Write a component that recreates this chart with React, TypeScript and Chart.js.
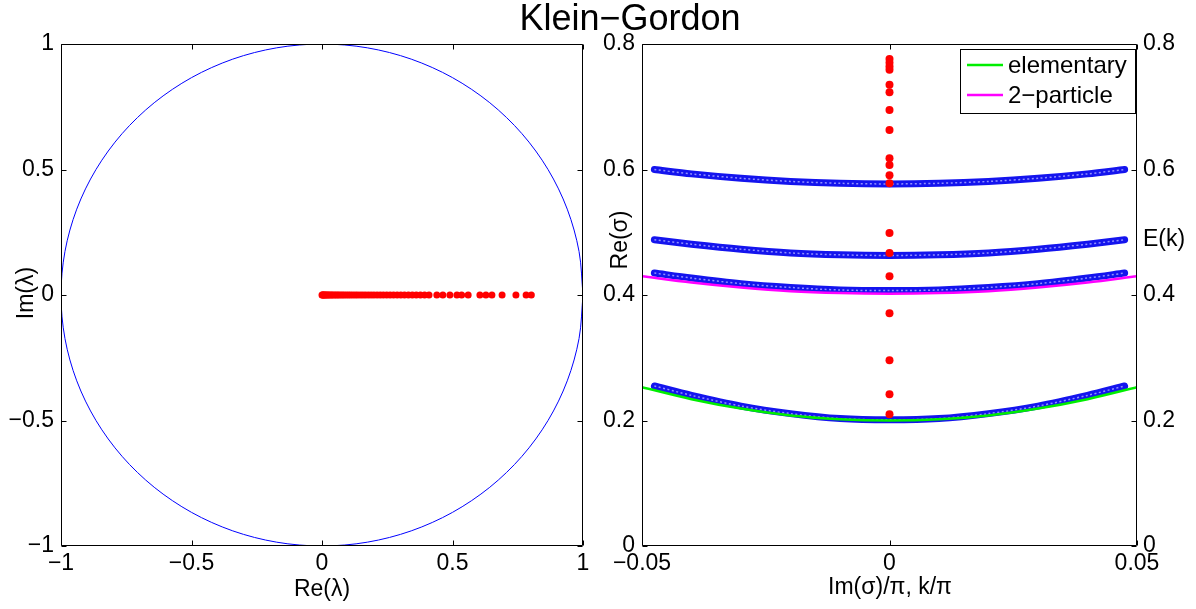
import React, { useEffect, useRef } from 'react';
import { Chart, registerables } from 'chart.js';

Chart.register(...registerables);

const FONT = "'Liberation Sans', Arial, Helvetica, sans-serif";

// ---------- Left panel: eigenvalues lambda in the complex plane ----------
const circleRe = [1, 0.9848, 0.9397, 0.866, 0.766, 0.6428, 0.5, 0.342, 0.1736, 0, -0.1736, -0.342, -0.5, -0.6428, -0.766, -0.866, -0.9397, -0.9848, -1, -0.9848, -0.9397, -0.866, -0.766, -0.6428, -0.5, -0.342, -0.1736, 0, 0.1736, 0.342, 0.5, 0.6428, 0.766, 0.866, 0.9397, 0.9848, 1];
const circleIm = [0, 0.1736, 0.342, 0.5, 0.6428, 0.766, 0.866, 0.9397, 0.9848, 1, 0.9848, 0.9397, 0.866, 0.766, 0.6428, 0.5, 0.342, 0.1736, 0, -0.1736, -0.342, -0.5, -0.6428, -0.766, -0.866, -0.9397, -0.9848, -1, -0.9848, -0.9397, -0.866, -0.766, -0.6428, -0.5, -0.342, -0.1736, 0];
const lambdaRe = [0.0, 0.002, 0.004, 0.007, 0.01, 0.013, 0.017, 0.021, 0.025, 0.03, 0.035, 0.04, 0.046, 0.052, 0.058, 0.064, 0.071, 0.078, 0.085, 0.093, 0.101, 0.109, 0.118, 0.127, 0.136, 0.146, 0.156, 0.166, 0.177, 0.188, 0.199, 0.211, 0.223, 0.235, 0.248, 0.261, 0.274, 0.288, 0.302, 0.316, 0.331, 0.346, 0.361, 0.377, 0.393, 0.41, 0.44, 0.463, 0.49, 0.517, 0.535, 0.56, 0.605, 0.628, 0.651, 0.69, 0.743, 0.782, 0.802];
const lambdaIm = 0;
const leftTicks = [-1, -0.5, 0, 0.5, 1];

// ---------- Right panel: Re(sigma) vs Im(sigma)/pi ----------
const bandK = [-0.0475, -0.04, -0.03, -0.02, -0.01, 0, 0.01, 0.02, 0.03, 0.04, 0.0475];
const band1 = [0.6, 0.593, 0.586, 0.581, 0.578, 0.577, 0.578, 0.581, 0.586, 0.593, 0.6];
const band2 = [0.488, 0.481, 0.473, 0.467, 0.464, 0.463, 0.464, 0.467, 0.473, 0.481, 0.488];
const band3 = [0.435, 0.427, 0.418, 0.412, 0.408, 0.407, 0.408, 0.412, 0.418, 0.427, 0.435];
const band4 = [0.255, 0.24, 0.223, 0.211, 0.203, 0.201, 0.203, 0.211, 0.223, 0.24, 0.255];
const lineK = [-0.05, -0.04, -0.03, -0.02, -0.01, 0, 0.01, 0.02, 0.03, 0.04, 0.05];
const elementary = [0.253, 0.234, 0.219, 0.208, 0.202, 0.2, 0.202, 0.208, 0.219, 0.234, 0.253];
const twoParticle = [0.43, 0.42, 0.412, 0.406, 0.403, 0.402, 0.403, 0.406, 0.412, 0.42, 0.43];
const sigmaRe = [0.776, 0.77, 0.764, 0.759, 0.735, 0.723, 0.695, 0.663, 0.618, 0.607, 0.591, 0.578, 0.499, 0.467, 0.43, 0.371, 0.296, 0.242, 0.21];
const sigmaIm = 0;
const rightXTicks = [-0.05, 0, 0.05];
const rightYTicks = [0, 0.2, 0.4, 0.6, 0.8];

function fmt(v: number): string {
  const s = String(parseFloat(v.toFixed(4)));
  return s.replace('-', '\u2212');
}

function linScale(min: number, max: number, ticks: number[], extra: any) {
  return {
    type: 'linear',
    min,
    max,
    grid: { display: false, drawTicks: false },
    border: { display: false },
    afterBuildTicks: (s: any) => {
      s.ticks = ticks.map((v) => ({ value: v }));
    },
    ticks: {
      font: { size: 23, family: FONT },
      color: '#000',
      autoSkip: false,
      maxRotation: 0,
      minRotation: 0,
      callback: (v: any) => fmt(Number(v)),
      padding: extra.padding,
    },
    position: extra.position,
    afterFit: extra.afterFit,
  };
}

function framePlugin(yLeftId: string, yRightId: string) {
  return {
    id: 'frame',
    afterDraw(chart: any) {
      const { ctx, chartArea: a } = chart;
      const L = Math.round(a.left) + 0.5;
      const R = Math.round(a.right) - 0.5;
      const T = Math.round(a.top) + 0.5;
      const B = Math.round(a.bottom) - 0.5;
      ctx.save();
      ctx.strokeStyle = '#000';
      ctx.lineWidth = 1;
      ctx.beginPath();
      ctx.rect(L, T, R - L, B - T);
      const tl = 5;
      const xs = chart.scales.x;
      xs.ticks.forEach((t: any) => {
        const p = Math.round(xs.getPixelForValue(t.value)) + 0.5;
        ctx.moveTo(p, B);
        ctx.lineTo(p, B - tl);
        ctx.moveTo(p, T);
        ctx.lineTo(p, T + tl);
      });
      const yl = chart.scales[yLeftId];
      yl.ticks.forEach((t: any) => {
        const p = Math.round(yl.getPixelForValue(t.value)) + 0.5;
        ctx.moveTo(L, p);
        ctx.lineTo(L + tl, p);
      });
      const yr = chart.scales[yRightId];
      yr.ticks.forEach((t: any) => {
        const p = Math.round(yr.getPixelForValue(t.value)) + 0.5;
        ctx.moveTo(R, p);
        ctx.lineTo(R - tl, p);
      });
      ctx.stroke();
      ctx.restore();
    },
  };
}

function textPlugin(draw: (ctx: CanvasRenderingContext2D) => void) {
  return {
    id: 'texts',
    afterDraw(chart: any) {
      const ctx = chart.ctx as CanvasRenderingContext2D;
      ctx.save();
      ctx.fillStyle = '#000';
      draw(ctx);
      ctx.restore();
    },
  };
}

export default function App() {
  const ref1 = useRef<HTMLCanvasElement>(null);
  const ref2 = useRef<HTMLCanvasElement>(null);

  useEffect(() => {
    Chart.defaults.font.family = FONT;

    const c1 = new Chart(ref1.current as HTMLCanvasElement, {
      type: 'scatter',
      data: {
        datasets: [
          {
            label: 'circle',
            data: circleRe.map((x, i) => ({ x, y: circleIm[i] })),
            showLine: true,
            borderColor: '#0000ff',
            borderWidth: 1,
            pointRadius: 0,
            tension: 0.33,
            fill: false,
            order: 1,
          } as any,
          {
            label: 'lambda',
            data: lambdaRe.map((x) => ({ x, y: lambdaIm })),
            showLine: false,
            pointRadius: 3.5,
            pointBackgroundColor: '#ff0000',
            pointBorderWidth: 0,
            backgroundColor: '#ff0000',
            borderColor: '#ff0000',
            order: 0,
          } as any,
        ],
      },
      options: {
        responsive: false,
        animation: false,
        events: [],
        layout: { padding: { top: 44, right: 17, bottom: 0, left: 0 } },
        plugins: { legend: { display: false }, tooltip: { enabled: false } },
        scales: {
          x: linScale(-1, 1, leftTicks, {
            padding: 4,
            position: 'bottom',
            afterFit: (s: any) => {
              s.height = 63;
            },
          }),
          y: linScale(-1, 1, leftTicks, {
            padding: 7,
            position: 'left',
            afterFit: (s: any) => {
              s.width = 61;
            },
          }),
        } as any,
      },
      plugins: [
        framePlugin('y', 'y'),
        textPlugin((ctx) => {
          ctx.font = `23px ${FONT}`;
          ctx.textAlign = 'center';
          ctx.textBaseline = 'middle';
          ctx.fillText('Re(\u03bb)', 322, 590);
          ctx.save();
          ctx.translate(27, 293);
          ctx.rotate(-Math.PI / 2);
          ctx.fillText('Im(\u03bb)', 0, 0);
          ctx.restore();
        }),
      ],
    } as any);

    const bandSets: any[] = [];
    [band1, band2, band3, band4].forEach((b, bi) => {
      const pts = bandK.map((x, i) => ({ x, y: b[i] }));
      bandSets.push({
        label: 'band' + bi,
        data: pts,
        showLine: true,
        borderColor: '#1414ee',
        borderWidth: 7,
        borderCapStyle: 'round',
        pointRadius: 0,
        tension: 0.3,
        fill: false,
        order: 4,
      });
      bandSets.push({
        label: 'band' + bi + 'in',
        data: pts,
        showLine: true,
        borderColor: 'rgba(150,150,255,0.95)',
        borderWidth: 1.5,
        borderDash: [2, 2.5],
        pointRadius: 0,
        tension: 0.3,
        fill: false,
        order: 3,
      });
    });

    const c2 = new Chart(ref2.current as HTMLCanvasElement, {
      type: 'scatter',
      data: {
        datasets: [
          ...bandSets,
          {
            label: 'elementary',
            data: lineK.map((x, i) => ({ x, y: elementary[i] })),
            showLine: true,
            borderColor: '#00ee00',
            borderWidth: 2.5,
            pointRadius: 0,
            tension: 0.3,
            fill: false,
            order: 2,
          },
          {
            label: '2-particle',
            data: lineK.map((x, i) => ({ x, y: twoParticle[i] })),
            showLine: true,
            borderColor: '#ff00ff',
            borderWidth: 2.5,
            pointRadius: 0,
            tension: 0.3,
            fill: false,
            order: 2,
          },
          {
            label: 'sigma',
            data: sigmaRe.map((y) => ({ x: sigmaIm, y })),
            showLine: false,
            pointRadius: 4,
            pointBackgroundColor: '#ff0000',
            pointBorderWidth: 0,
            backgroundColor: '#ff0000',
            borderColor: '#ff0000',
            order: 0,
          },
        ],
      },
      options: {
        responsive: false,
        animation: false,
        events: [],
        layout: { padding: { top: 44, right: 0, bottom: 0, left: 0 } },
        plugins: { legend: { display: false }, tooltip: { enabled: false } },
        scales: {
          x: linScale(-0.05, 0.05, rightXTicks, {
            padding: 4,
            position: 'bottom',
            afterFit: (s: any) => {
              s.height = 63;
            },
          }),
          y: linScale(0, 0.8, rightYTicks, {
            padding: 7,
            position: 'left',
            afterFit: (s: any) => {
              s.width = 42;
            },
          }),
          y2: linScale(0, 0.8, rightYTicks, {
            padding: 6,
            position: 'right',
            afterFit: (s: any) => {
              s.width = 59;
            },
          }),
        } as any,
      },
      plugins: [
        framePlugin('y', 'y2'),
        textPlugin((ctx) => {
          ctx.font = `23px ${FONT}`;
          ctx.textAlign = 'center';
          ctx.textBaseline = 'middle';
          ctx.fillText('Im(\u03c3)/\u03c0, k/\u03c0', 290, 588);
          ctx.save();
          ctx.translate(21, 240);
          ctx.rotate(-Math.PI / 2);
          ctx.fillText('Re(\u03c3)', 0, 0);
          ctx.restore();
          ctx.textAlign = 'left';
          ctx.fillText('E(k)', 543, 240);
          // legend
          const lx = 360.5, ly = 49.5, lw = 175, lh = 64;
          ctx.fillStyle = '#fff';
          ctx.fillRect(lx, ly, lw, lh);
          ctx.strokeStyle = '#000';
          ctx.lineWidth = 1;
          ctx.strokeRect(lx, ly, lw, lh);
          const items: [string, string, number][] = [
            ['elementary', '#00ee00', 65],
            ['2\u2212particle', '#ff00ff', 95],
          ];
          ctx.font = `24px ${FONT}`;
          items.forEach(([t, c, y]) => {
            ctx.strokeStyle = c;
            ctx.lineWidth = 2.5;
            ctx.beginPath();
            ctx.moveTo(367, y);
            ctx.lineTo(403, y);
            ctx.stroke();
            ctx.fillStyle = '#000';
            ctx.fillText(t, 408, y + 1);
          });
        }),
      ],
    } as any);

    return () => {
      c1.destroy();
      c2.destroy();
    };
  }, []);

  return (
    <div style={{ position: 'absolute', left: 0, top: 0, width: 1196, height: 609, background: '#fff', overflow: 'hidden' }}>
      <canvas ref={ref1} width={600} height={609} style={{ position: 'absolute', left: 0, top: 0, width: 600, height: 609 }} />
      <canvas ref={ref2} width={596} height={609} style={{ position: 'absolute', left: 600, top: 0, width: 596, height: 609 }} />
      <div
        style={{
          position: 'absolute',
          left: 430,
          top: 0,
          width: 400,
          textAlign: 'center',
          font: `36px ${FONT}`,
          lineHeight: '36px',
          color: '#000',
          pointerEvents: 'none',
        }}
      >
        Klein{'\u2212'}Gordon
      </div>
    </div>
  );
}
